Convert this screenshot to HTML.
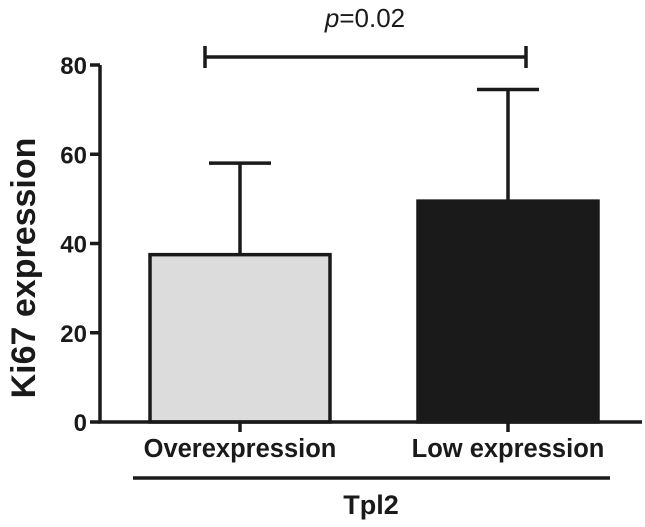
<!DOCTYPE html>
<html><head><meta charset="utf-8"><style>
body{margin:0;background:#fff}
svg text{font-family:"Liberation Sans",Arial,sans-serif;font-weight:bold;fill:#1a1a1a}
</style></head><body>
<svg width="645" height="522" viewBox="0 0 645 522">
<g id="g"></g>
</svg>
<script>
const categories=["Overexpression","Low expression"];
const means=[37.5,49.5];
const errors=[20.5,25];
const fills=["#dcdcdc","#1a1a1a"];
const yTicks=[0,20,40,60,80];
const pLabel="p=0.02";
const NS="http://www.w3.org/2000/svg";
const g=document.getElementById('g');
function y(v){return 422-v*(422-65)/80;}
function x(i){return [240,508][i];}
const bw=180;
function el(t,a,p){const e=document.createElementNS(NS,t);for(const k in a)e.setAttribute(k,a[k]);(p||g).appendChild(e);return e;}
means.forEach((m,i)=>{
 const r=el('rect',{x:x(i)-bw/2,y:y(m),width:bw,height:y(0)-y(m),fill:fills[i],stroke:'#1a1a1a','stroke-width':3.5});
 
 
 const e=el('path',{d:`M${x(i)} ${y(m)}V${y(m+errors[i])}M${x(i)-31} ${y(m+errors[i])}H${x(i)+31}`,stroke:'#1a1a1a','stroke-width':3.5,fill:'none'});
 
 
 const t=el('text',{x:x(i),y:457,'text-anchor':'middle','font-size':25.5});
 t.textContent=categories[i];
 
 
 el('line',{x1:x(i),x2:x(i),y1:422,y2:432,stroke:'#1a1a1a','stroke-width':3.5});
});
const ax=el('path',{d:`M100 ${y(80)}V422H642`,stroke:'#1a1a1a','stroke-width':3.5,fill:'none'});


yTicks.forEach(v=>{
 el('line',{x1:90,x2:100,y1:y(v),y2:y(v),stroke:'#1a1a1a','stroke-width':3.5});
 const t=el('text',{x:87,y:y(v)+9,'text-anchor':'end','font-size':24});
 t.textContent=v;
 
 
});
const yt=el('text',{x:0,y:0,'text-anchor':'middle','font-size':34,transform:'translate(35,268) rotate(-90)'});
yt.textContent='Ki67 expression';


const gl=el('line',{x1:133,x2:610,y1:478,y2:478,stroke:'#1a1a1a','stroke-width':3.5});


const gt=el('text',{x:371,y:514,'text-anchor':'middle','font-size':27});
gt.textContent='Tpl2';


const sb=el('path',{d:'M205 46V68M205 57H526M526 46V68',stroke:'#1a1a1a','stroke-width':3.5,fill:'none'});


const pt=el('text',{x:365,y:27,'text-anchor':'middle','font-size':26,style:'font-weight:normal'});
pt.innerHTML='<tspan font-style="italic">p</tspan>=0.02';


</script>
</body></html>
